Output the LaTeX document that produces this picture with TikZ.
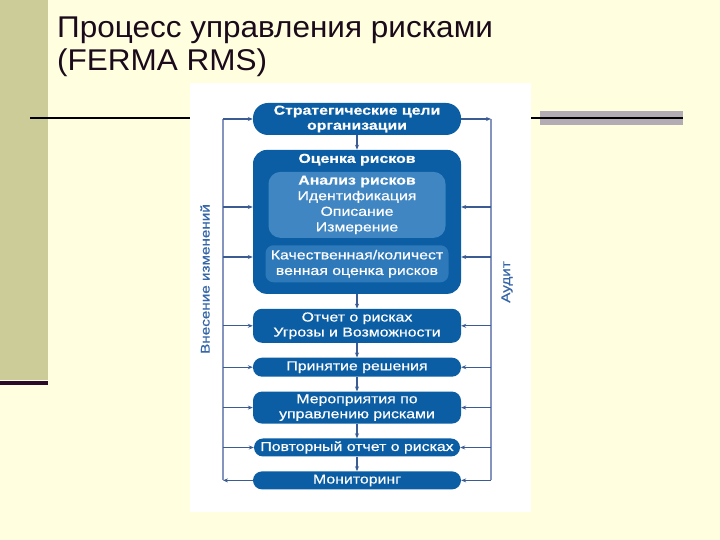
\documentclass[tikz,border=0pt]{standalone}
\usepackage{fontspec}
\setmainfont{Liberation Sans}
\newfontfamily\boxfont[FakeStretch=1.22, FakeBold=0.5]{Liberation Sans}
\newfontfamily\titlefont[FakeStretch=1.05]{Liberation Sans}
\usetikzlibrary{positioning,arrows.meta}

\definecolor{slidebg}{HTML}{FFFFE0}
\definecolor{stripolive}{HTML}{CCCC99}
\definecolor{stripdark}{HTML}{2B0B2B}
\definecolor{barmauve}{HTML}{B4ACB4}
\definecolor{titleink}{HTML}{1A0A1A}
\definecolor{boxblue}{HTML}{0B5EA3}
\definecolor{innerblue}{HTML}{3F86C3}
\definecolor{qualblue}{HTML}{2E79BA}
\definecolor{arrowblue}{HTML}{3A5C92}
\definecolor{railblue}{HTML}{8494BE}
\definecolor{labelblue}{HTML}{3466A8}

\tikzset{
  stage/.style={fill=boxblue, text=white, rounded corners=9pt, minimum width=208pt,
    inner sep=0pt, align=center, font=\boxfont\fontsize{13}{15}\selectfont},
  inbox/.style={text=white, inner sep=0pt, align=center,
    font=\boxfont\fontsize{13}{15.6}\selectfont},
  feed/.style={draw=arrowblue, line width=1.1pt, -{Stealth[length=5pt,width=4pt]}},
  rail/.style={draw=railblue, line width=1.8pt},
  sidelabel/.style={rotate=90, text=labelblue, font=\boxfont\fontsize{12.5}{15}\selectfont},
  headline/.style={anchor=base west, text=titleink, inner sep=0pt,
    font=\titlefont\fontsize{30}{33}\selectfont}
}

\begin{document}
\begin{tikzpicture}[x=1pt, y=1pt, node distance=14.5pt]
  \useasboundingbox (0,0) rectangle (720,540);
  % slide background
  \fill[slidebg] (0,0) rectangle (720,540);
  \fill[stripolive] (0,160) rectangle (48,540);
  \fill[stripdark] (0,155) rectangle (48,159);

  % title
  \node[headline] (title1) at (57,502) {Процесс управления рисками};
  \node[headline] (title2) at (57,469) {(FERMA RMS)};

  % rules under the title
  \fill[barmauve] (540,415) rectangle (683,429);
  \draw[line width=2pt] (30,422) -- (683,422);

  % picture panel
  \fill[white] (190,28) rectangle (531,457);

  % Stages, top to bottom
  \node[stage, minimum height=32pt, rounded corners=15pt] (goals) at (357,421)
    {\bfseries Стратегические цели\\\bfseries организации};
  \node[stage, minimum height=144pt, rounded corners=14pt, below=of goals] (assess) {};
  \node[inbox, font=\boxfont\bfseries\fontsize{13}{15}\selectfont]
    (assesstitle) at ([yshift=-10pt]assess.north) {Оценка рисков};
  \node[inbox, fill=innerblue, minimum width=177pt, minimum height=66pt, rounded corners=12pt,
    below=22pt of assess.north] (analysis)
    {\bfseries Анализ рисков\\Идентификация\\Описание\\Измерение};
  \node[inbox, fill=qualblue, minimum width=183pt, minimum height=37pt, rounded corners=8pt,
    below=7pt of analysis] (qualquant)
    {Качественная/количест\\венная оценка рисков};
  \node[stage, minimum height=34pt, below=of assess] (report)
    {Отчет о рисках\\Угрозы и Возможности};
  \node[stage, minimum height=19pt, below=of report] (decision) {Принятие решения};
  \node[stage, minimum height=32pt, below=of decision] (treatment)
    {Мероприятия по\\управлению рисками};
  \node[stage, minimum height=18pt, minimum width=206pt, below=of treatment] (rereport)
    {Повторный отчет о рисках};
  \node[stage, minimum height=18pt, below=of rereport] (monitor) {Мониторинг};

  % side rails
  \coordinate (ltop) at (223,0 |- goals);
  \coordinate (lbot) at (223,0 |- monitor);
  \coordinate (rtop) at (491,0 |- goals);
  \coordinate (rbot) at (491,0 |- monitor);
  \coordinate (lA) at (223,333);
  \coordinate (lB) at (223,283);
  \coordinate (rA) at (491,333);
  \coordinate (rB) at (491,283);
  \draw[rail] (ltop) -- (lbot);
  \draw[rail] (rtop) -- (rbot);

  % down the middle
  \foreach \a/\b in {goals/assess, assess/report, report/decision,
                     decision/treatment, treatment/rereport, rereport/monitor}
    \draw[feed] (\a.south) -- (\b.north);

  % left feedback: Monitoring -> changes -> every stage
  \draw[feed] (monitor.west) -- (lbot);
  \foreach \n in {goals, report, decision, treatment, rereport}
    \draw[feed] (\n.west -| ltop) -- (\n.west);
  \draw[feed] (lA) -- (lA -| assess.west);
  \draw[feed] (lB) -- (lB -| assess.west);

  % right feedback: goals -> audit -> every stage
  \draw[feed] (goals.east) -- (rtop);
  \foreach \n in {report, decision, treatment, rereport, monitor}
    \draw[feed] (\n.east -| rtop) -- (\n.east);
  \draw[feed] (rA) -- (rA -| assess.east);
  \draw[feed] (rB) -- (rB -| assess.east);

  % rail labels
  \node[sidelabel] (changes) at (205,261) {Внесение изменений};
  \node[sidelabel] (audit) at (507,258) {Аудит};
\end{tikzpicture}
\end{document}
